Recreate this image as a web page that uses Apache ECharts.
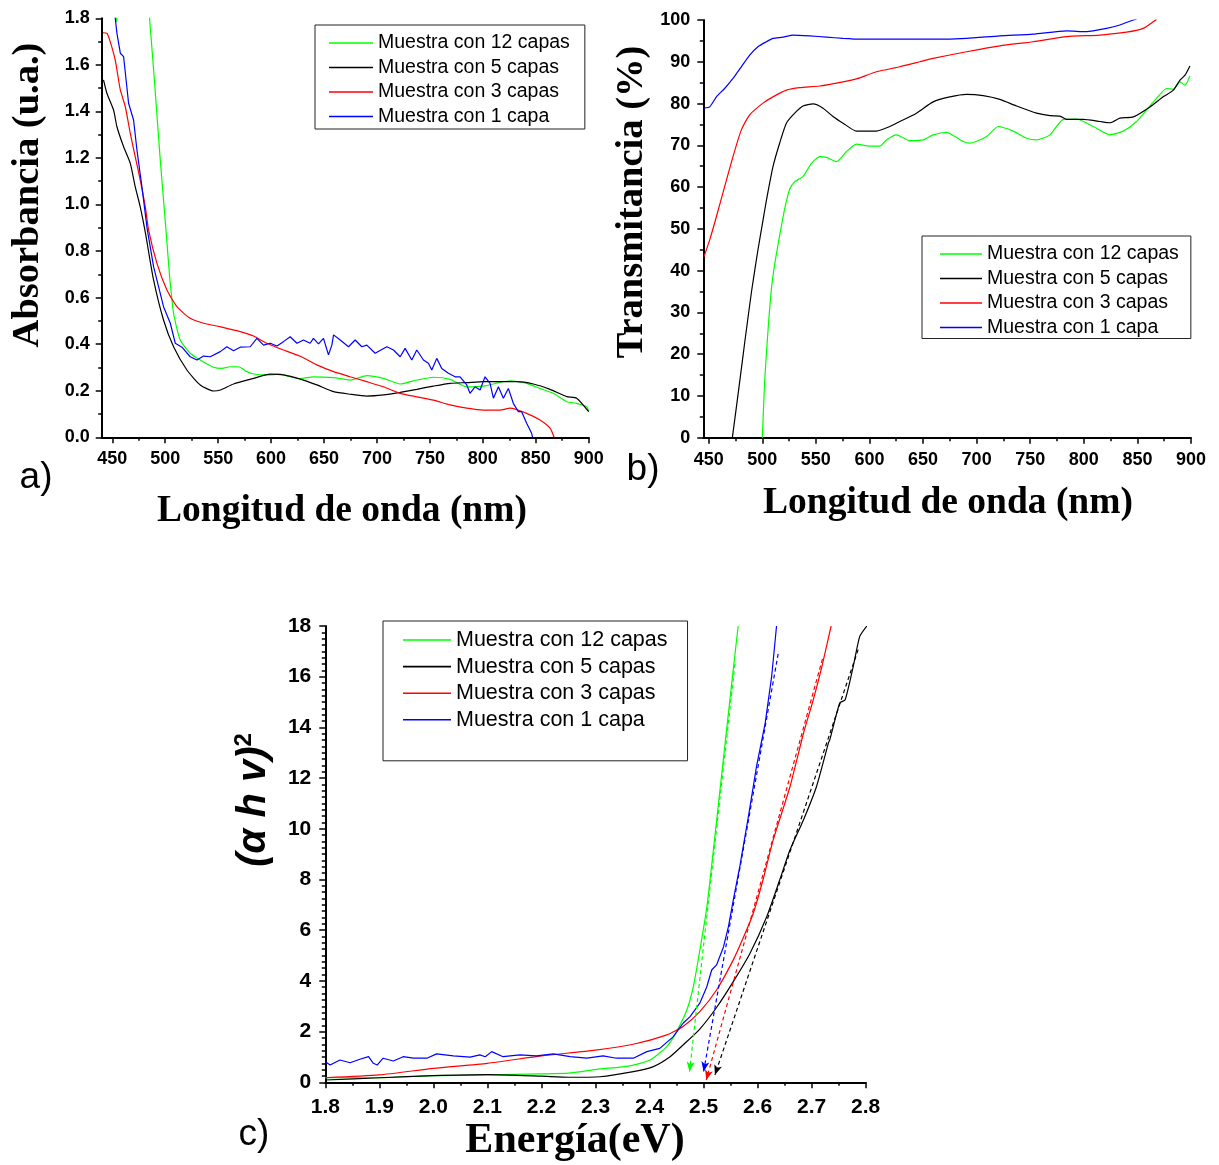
<!DOCTYPE html>
<html>
<head>
<meta charset="utf-8">
<script src="https://cdn.jsdelivr.net/npm/echarts@6/dist/echarts.min.js"></script>
<style>
html,body{margin:0;padding:0;background:#fff;}
#c{width:1219px;height:1165px;}
</style>
</head>
<body>
<div id="c"></div>
<script>
// ---------- data ----------
var seriesNames = ['Muestra con 12 capas', 'Muestra con 5 capas', 'Muestra con 3 capas', 'Muestra con 1 capa'];
var seriesColors = ['#00ff00', '#000000', '#ff0000', '#0000ff'];

var xTicksAB = [450, 500, 550, 600, 650, 700, 750, 800, 850, 900];
var xMinorAB = [475, 525, 575, 625, 675, 725, 775, 825, 875];

// a) Absorbancia vs wavelength
var absGreen = [[452,1.83],[454,1.785],[456,1.9],[465,2.3],[478,2.2],[485.2,1.8],[490,1.52],[495,1.21],[500.7,0.891],[504,0.70],[507.9,0.533],[514.2,0.418],[523.6,0.361],[533.1,0.332],[545.6,0.301],[553.5,0.296],[561.4,0.303],[569.2,0.303],[577.2,0.282],[583.4,0.272],[596,0.268],[608.6,0.271],[618,0.26],[627.5,0.252],[640,0.26],[659,0.256],[674.7,0.246],[690.4,0.265],[706.1,0.253],[721.9,0.229],[737.6,0.246],[753.3,0.258],[769.1,0.249],[784.8,0.217],[800.5,0.22],[816.3,0.236],[825.7,0.243],[841.4,0.232],[854,0.21],[866.5,0.189],[879.2,0.153],[888.6,0.146],[898.1,0.131],[900,0.11]];
var absBlack = [[441.7,1.535],[444.9,1.478],[451.2,1.406],[454.4,1.334],[460.7,1.248],[467,1.177],[471.7,1.076],[476.4,0.99],[481.2,0.88],[489,0.676],[498.4,0.504],[507.9,0.389],[520.5,0.289],[533.1,0.225],[545.6,0.199],[552,0.203],[564.5,0.229],[583.4,0.253],[599.2,0.271],[611.7,0.268],[627.5,0.25],[643.2,0.225],[659,0.196],[674.7,0.185],[690.4,0.177],[706.1,0.182],[721.9,0.193],[737.6,0.206],[753.3,0.22],[769.1,0.232],[784.8,0.235],[800.5,0.239],[816.3,0.239],[832,0.239],[847.7,0.229],[863.5,0.206],[879.2,0.175],[888.6,0.168],[900,0.11]];
var absRed = [[441.2,1.738],[445,1.735],[448.1,1.699],[452.8,1.62],[457.6,1.492],[462.3,1.42],[467,1.306],[471.7,1.205],[476.4,1.105],[481.2,0.99],[484.3,0.89],[492.2,0.747],[501.6,0.633],[511.1,0.561],[523.6,0.511],[536.2,0.49],[548.7,0.478],[558.2,0.468],[570.8,0.454],[583.4,0.435],[596,0.404],[611.7,0.375],[627.5,0.348],[643.2,0.311],[659,0.282],[674.7,0.26],[690.4,0.239],[706.1,0.217],[721.9,0.189],[737.6,0.174],[753.3,0.16],[769.1,0.139],[784.8,0.125],[800.5,0.117],[816.3,0.117],[825.7,0.125],[841.4,0.103],[854,0.074],[863.5,0.039],[867.3,0]];
var absBlue = [[445,2.0],[452.8,1.8],[454.4,1.735],[457.6,1.65],[460.7,1.635],[465.4,1.435],[470.1,1.363],[473.3,1.234],[478,1.076],[482.8,0.9],[489,0.733],[498.4,0.561],[504.8,0.49],[509.5,0.404],[515.8,0.387],[523.6,0.346],[530,0.332],[536.2,0.349],[542.5,0.346],[552,0.368],[558.2,0.389],[564.5,0.372],[570.8,0.387],[580.3,0.389],[586.6,0.425],[592.9,0.396],[599.2,0.404],[605.5,0.392],[611.7,0.411],[618,0.432],[624.4,0.404],[630.6,0.418],[636.9,0.404],[640,0.425],[644.8,0.401],[649.5,0.425],[654.2,0.354],[657.4,0.396],[659,0.44],[665.3,0.418],[673.1,0.389],[679.4,0.418],[685.7,0.389],[690.4,0.396],[698.3,0.361],[709.3,0.389],[715.6,0.375],[721.9,0.346],[726.6,0.382],[732.9,0.332],[737.6,0.375],[743.9,0.332],[748.6,0.318],[751.8,0.289],[756.5,0.339],[761.2,0.296],[767.5,0.275],[773.8,0.26],[778.5,0.26],[784.8,0.225],[787.9,0.189],[792.6,0.217],[797.4,0.203],[802.1,0.26],[806.8,0.232],[810,0.168],[814.7,0.217],[819.4,0.168],[824.1,0.21],[828.8,0.146],[833.6,0.11],[836.7,0.11],[841.4,0.06],[846.1,0.017],[847,0]];

// b) Transmitancia vs wavelength
var transGreen = [[500.1,0],[502.3,13.8],[505.4,25.8],[508.5,35.5],[511.6,41.5],[516.3,48.5],[520.9,54.8],[525.6,59.5],[530.3,61.3],[538,62.5],[545.9,65.7],[553.6,67.3],[559.9,67.1],[569.2,66.1],[578.6,68.5],[587.9,70.3],[600.3,69.8],[609.7,69.8],[615.9,71.3],[625.2,72.5],[637.7,71.1],[650.1,71.3],[659.4,72.5],[671.9,73.1],[687.4,70.9],[693.7,70.5],[709.3,72.1],[720.1,74.5],[734.1,73.4],[746.6,71.7],[755.9,71.3],[768.4,72.5],[780.8,76.2],[793.3,76.3],[808.8,74.5],[824.4,72.5],[836.8,73.4],[849.3,75.7],[858.6,78.5],[868,81.3],[877.3,83.6],[883.5,83.4],[889.7,85.2],[894.4,84.4],[899,86.6]];
var transBlack = [[472.1,0],[478,11.5],[484,23.5],[490,35],[496,45],[501,52.5],[504,57],[510,64.9],[516.2,70.5],[522.5,75.3],[530.3,77.7],[538,79.4],[547.4,79.9],[556.7,78.9],[566,76.9],[575.4,75.3],[587.9,73.4],[606.6,73.4],[619,74.5],[628.3,75.7],[643.9,77.7],[659.4,80.4],[675,81.6],[690.6,82.2],[706.1,81.9],[721.7,81.0],[737.3,79.4],[755.9,77.7],[768.4,77.1],[777.7,77.0],[783.9,76.2],[799.5,76.2],[815,75.7],[824.4,75.4],[833.7,76.5],[846.2,76.8],[861.7,79.2],[874.1,81.6],[883.5,83.2],[889.7,85.6],[894.4,86.8],[899,89.0]];
var transRed = [[445.6,43.3],[450.9,47.3],[457.2,52.9],[464.9,60.1],[472.7,67.3],[480.5,73.7],[488.3,77.3],[500.7,80.1],[510,81.6],[522.5,83.2],[535,83.8],[553.6,84.2],[575.4,85.2],[587.9,85.9],[606.6,87.6],[628.3,88.8],[647,90.0],[659.4,90.8],[690.6,92.4],[721.7,93.8],[752.8,94.8],[783.9,96.0],[815,96.4],[839.9,97.1],[855.4,98.0],[864.8,99.6],[868,100.2]];
var transBlue = [[445.6,78.9],[450.9,79.2],[457.2,81.6],[464.9,83.6],[472.7,86.0],[480.5,88.8],[488.3,91.6],[496,93.6],[503.9,94.8],[510,95.6],[519.4,95.9],[528.7,96.4],[544.3,96.2],[559.9,95.9],[575.4,95.6],[591,95.4],[606.6,95.4],[622.1,95.4],[637.7,95.4],[659.4,95.4],[690.6,95.6],[721.7,96.2],[752.8,96.6],[783.9,97.4],[802.6,97.2],[821.3,98.0],[833.7,98.8],[846.1,100],[849.3,100.2]];

// c) (alpha h v)^2 vs energy
var tGreen = [[1.8,0.18],[1.9,0.18],[2.0,0.26],[2.1,0.29],[2.2,0.33],[2.25,0.36],[2.302,0.51],[2.345,0.6],[2.37,0.68],[2.401,0.88],[2.432,1.41],[2.45,2.0],[2.469,2.85],[2.481,3.77],[2.493,5.2],[2.506,6.9],[2.524,10.3],[2.54,13.4],[2.555,16.3],[2.564,18.0]];
var tBlack = [[1.8,0.09],[1.9,0.18],[2.0,0.26],[2.1,0.3],[2.2,0.24],[2.25,0.2],[2.308,0.22],[2.37,0.42],[2.407,0.62],[2.438,1.01],[2.462,1.47],[2.493,2.1],[2.524,2.95],[2.555,3.97],[2.586,5.09],[2.617,6.54],[2.641,7.99],[2.66,9.17],[2.685,10.36],[2.709,11.67],[2.731,13.38],[2.734,13.54],[2.752,14.96],[2.762,15.09],[2.777,16.41],[2.789,17.59],[2.802,18]];
var tRed = [[1.8,0.18],[1.9,0.29],[2.0,0.55],[2.1,0.75],[2.2,1.04],[2.3,1.27],[2.37,1.5],[2.432,1.87],[2.462,2.2],[2.493,2.79],[2.524,3.64],[2.555,4.83],[2.573,5.68],[2.592,6.67],[2.61,7.99],[2.629,9.57],[2.66,11.67],[2.685,13.78],[2.703,15.09],[2.719,16.41],[2.736,18]];
var tBlue = [[1.8,0.81],[1.809,0.68],[1.827,0.88],[1.846,0.77],[1.864,0.91],[1.88,1.01],[1.889,0.75],[1.896,0.68],[1.907,0.95],[1.926,0.84],[1.944,1.01],[1.963,0.95],[1.988,0.95],[2.006,1.12],[2.037,1.04],[2.068,0.99],[2.086,1.08],[2.096,1.01],[2.108,1.21],[2.129,1.01],[2.16,1.08],[2.191,1.04],[2.222,1.12],[2.253,1.01],[2.284,0.95],[2.314,1.04],[2.339,0.95],[2.37,0.95],[2.395,1.21],[2.419,1.34],[2.444,1.8],[2.462,2.33],[2.475,2.59],[2.493,3.12],[2.506,3.77],[2.515,4.43],[2.524,4.63],[2.537,5.35],[2.546,6.14],[2.555,7.2],[2.567,8.51],[2.583,10.49],[2.598,12.46],[2.614,14.17],[2.626,16.01],[2.635,18]];

// c) linear fits (dashed, with arrow at the band-gap intercept)
var fitGreen = [[2.558,16.5],[2.474,0.42]];
var fitBlack = [[2.786,17.07],[2.521,0.29]];
var fitRed = [[2.72,16.7],[2.505,0.09]];
var fitBlue = [[2.638,16.9],[2.5,0.42]];

// ---------- chart ----------
var SANS = 'Liberation Sans, Arial, sans-serif';
var SERIF = 'Liberation Serif, Times New Roman, serif';
var chart = echarts.init(document.getElementById('c'), null, {renderer: 'canvas'});

function tickLabel(size, fmt) {
  var o = {color: '#000', fontFamily: SANS, fontWeight: 'bold', fontSize: size};
  if (fmt) o.formatter = fmt;
  return o;
}
var axisLineStyle = {show: true, onZero: false, lineStyle: {color: '#000', width: 2}};

function mainX(gi, min, max, ticks) {
  return {
    type: 'value', gridIndex: gi, min: min, max: max, position: 'bottom',
    axisLine: axisLineStyle,
    axisTick: {show: true, customValues: ticks, length: 6, lineStyle: {color: '#000', width: 1.5}},
    axisLabel: Object.assign({customValues: ticks, margin: 13}, tickLabel(18)),
    splitLine: {show: false}
  };
}
function minorX(gi, min, max, ticks) {
  return {
    type: 'value', gridIndex: gi, min: min, max: max, position: 'bottom',
    axisLine: {show: false, onZero: false},
    axisTick: {show: true, customValues: ticks, length: 3.5, lineStyle: {color: '#000', width: 1.5}},
    axisLabel: {show: false},
    splitLine: {show: false}
  };
}
function yAx(gi, min, max, interval, minorSplit, size, fmt, margin) {
  return {
    type: 'value', gridIndex: gi, min: min, max: max, interval: interval,
    axisLine: axisLineStyle,
    axisTick: {show: true, length: 6, lineStyle: {color: '#000', width: 1.5}},
    minorTick: {show: true, splitNumber: minorSplit, length: 3.5, lineStyle: {color: '#000', width: 1.5}},
    axisLabel: Object.assign({margin: margin}, tickLabel(size, fmt)),
    splitLine: {show: false}, minorSplitLine: {show: false}
  };
}

var fixed1 = function (v) { return v.toFixed(1); };

function lineSeries(name, color, data, xi, yi, smooth, fit) {
  var s = {
    name: name, type: 'line', data: data, xAxisIndex: xi, yAxisIndex: yi,
    showSymbol: false, symbol: 'none', smooth: smooth,
    lineStyle: {color: color, width: 1.2}, itemStyle: {color: color},
    clip: true, silent: true
  };
  if (fit) {
    s.markLine = {
      silent: true, animation: false,
      symbol: ['none', 'arrow'], symbolSize: [6, 10],
      label: {show: false},
      lineStyle: {color: color, type: [4, 3], width: 1.2},
      data: [[{coord: fit[0]}, {coord: fit[1]}]]
    };
  }
  return s;
}

function legendBox(left, top, padding, itemW, fontSize, gap) {
  return {
    show: true, orient: 'vertical', left: left, top: top, padding: padding,
    itemWidth: itemW, itemHeight: 1.6, itemGap: gap, icon: 'rect',
    borderColor: '#222', borderWidth: 1, backgroundColor: '#fff',
    selectedMode: false,
    textStyle: {color: '#000', fontFamily: SANS, fontSize: fontSize, lineHeight: fontSize},
    data: seriesNames
  };
}

function txt(x, y, text, font, rot) {
  return {
    type: 'text', x: x, y: y, rotation: rot || 0, silent: true,
    style: {text: text, font: font, fill: '#000', align: 'center', verticalAlign: 'middle'}
  };
}

var option = {
  animation: false,
  backgroundColor: '#fff',
  grid: [
    {left: 101.7, top: 18.3, width: 487, height: 419},
    {left: 703.3, top: 20, width: 487.7, height: 417.7},
    {left: 325.3, top: 626, width: 540.4, height: 456.3}
  ],
  xAxis: [
    mainX(0, 440, 900, xTicksAB),
    minorX(0, 440, 900, xMinorAB),
    mainX(1, 445, 900, xTicksAB),
    minorX(1, 445, 900, xMinorAB),
    {
      type: 'value', gridIndex: 2, min: 1.8, max: 2.8, interval: 0.1, position: 'bottom',
      axisLine: axisLineStyle,
      axisTick: {show: true, length: 6, lineStyle: {color: '#000', width: 1.5}},
      minorTick: {show: true, splitNumber: 2, length: 3.5, lineStyle: {color: '#000', width: 1.5}},
      axisLabel: Object.assign({margin: 14}, tickLabel(21, fixed1)),
      splitLine: {show: false}, minorSplitLine: {show: false}
    }
  ],
  yAxis: [
    yAx(0, 0, 1.8, 0.2, 2, 18, fixed1, 12),
    yAx(1, 0, 100, 10, 2, 18, null, 13),
    yAx(2, 0, 18, 2, 8, 21, null, 14)
  ],
  legend: [
    legendBox(315, 25, [8, 15, 2.5, 14], 44, 19.5, 4.5),
    legendBox(922, 236, [8, 12, 1, 18], 42, 19.5, 4.5),
    legendBox(383, 621, [8, 20, 30, 20], 48, 21.5, 4.6)
  ],
  series: [
    lineSeries(seriesNames[0], seriesColors[0], absGreen, 0, 0, 0.2),
    lineSeries(seriesNames[1], seriesColors[1], absBlack, 0, 0, 0.2),
    lineSeries(seriesNames[2], seriesColors[2], absRed, 0, 0, 0.2),
    lineSeries(seriesNames[3], seriesColors[3], absBlue, 0, 0, false),

    lineSeries(seriesNames[0], seriesColors[0], transGreen, 2, 1, 0.2),
    lineSeries(seriesNames[1], seriesColors[1], transBlack, 2, 1, 0.2),
    lineSeries(seriesNames[2], seriesColors[2], transRed, 2, 1, 0.2),
    lineSeries(seriesNames[3], seriesColors[3], transBlue, 2, 1, 0.2),

    lineSeries(seriesNames[0], seriesColors[0], tGreen, 4, 2, 0.2, fitGreen),
    lineSeries(seriesNames[1], seriesColors[1], tBlack, 4, 2, 0.2, fitBlack),
    lineSeries(seriesNames[2], seriesColors[2], tRed, 4, 2, 0.2, fitRed),
    lineSeries(seriesNames[3], seriesColors[3], tBlue, 4, 2, false, fitBlue)
  ],
  graphic: [
    txt(36, 478, 'a)', '37px ' + SANS),
    txt(643, 470, 'b)', '37px ' + SANS),
    txt(254, 1135, 'c)', '37px ' + SANS),
    txt(342, 511, 'Longitud de onda (nm)', 'bold 37.5px ' + SERIF),
    txt(948, 503, 'Longitud de onda (nm)', 'bold 37.5px ' + SERIF),
    txt(575, 1141, 'Energía(eV)', 'bold 42px ' + SERIF),
    txt(28, 195, 'Absorbancia (u.a.)', 'bold 38.5px ' + SERIF, Math.PI / 2),
    txt(632, 202, 'Transmitancia (%)', 'bold 38.5px ' + SERIF, Math.PI / 2),
    {
      type: 'text', x: 254, y: 800, rotation: Math.PI / 2, silent: true,
      style: {
        text: '{m|(α h v)}{s|2}', fill: '#000', align: 'center', verticalAlign: 'middle',
        rich: {
          m: {fontFamily: SANS, fontWeight: 'bold', fontStyle: 'italic', fontSize: 40, lineHeight: 44, fill: '#000'},
          s: {fontFamily: SANS, fontWeight: 'bold', fontSize: 24, lineHeight: 44, verticalAlign: 'top', fill: '#000'}
        }
      }
    }
  ]
};
chart.setOption(option);
</script>
</body>
</html>
